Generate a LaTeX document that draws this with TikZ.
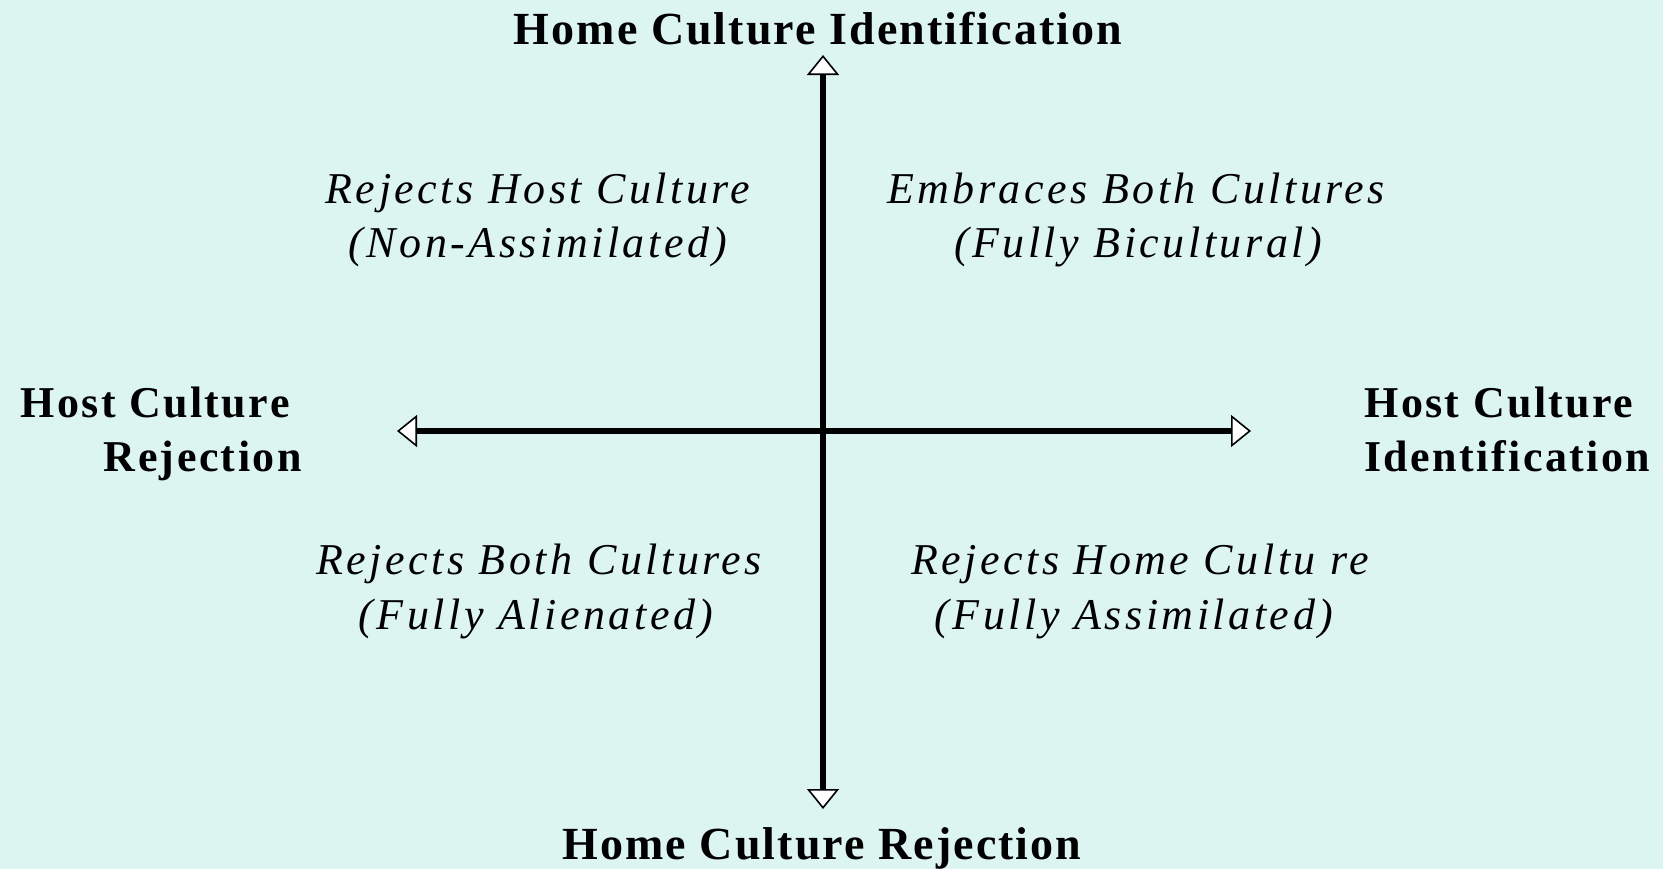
\documentclass[tikz,border=0pt]{standalone}
\usepackage{fontspec}
\setmainfont{Liberation Serif}
\newfontfamily\axisfont[LetterSpace=4.5]{Liberation Serif}
\newfontfamily\sidefont[LetterSpace=5.5]{Liberation Serif}
\newfontfamily\quadfont[LetterSpace=8]{Liberation Serif}
\usetikzlibrary{arrows.meta}
\definecolor{paper}{RGB}{221,245,241}
\tikzset{
  axislbl/.style={inner sep=0pt, font=\axisfont\bfseries\fontsize{23}{27}\selectfont},
  sidelbl/.style={inner sep=0pt, font=\sidefont\bfseries\fontsize{22}{27}\selectfont},
  quadlbl/.style={inner sep=0pt, font=\quadfont\itshape\fontsize{22}{27}\selectfont},
  axisline/.style={line width=2.6pt,
    {Triangle[open, fill=white, line width=0.8pt, length=10pt, width=16pt]}-{Triangle[open, fill=white, line width=0.8pt, length=10pt, width=16pt]}},
}
\begin{document}
\begin{tikzpicture}[x=0.5pt,y=-0.5pt]
  % canvas
  \fill[paper] (0,0) rectangle (1663,869);
  \useasboundingbox (0,0) rectangle (1663,869);

  % axis end points
  \coordinate (top) at (823,55);
  \coordinate (bottom) at (823,809);
  \coordinate (left) at (397,431);
  \coordinate (right) at (1251,431);

  \draw[axisline] (top) -- (bottom);
  \draw[axisline] (left) -- (right);

  % axis labels
  \node[axislbl, anchor=base] (homeid) at (818,44) {Home Culture Identification};
  \node[axislbl, anchor=base] (homerej) at (822,859) {Home Culture Rejection};
  \node[sidelbl, anchor=base east] (hostrej1) at (290,417) {Host Culture};
  \node[sidelbl, anchor=base east] (hostrej2) at (302,471) {Rejection};
  \node[sidelbl, anchor=base west] (hostid1) at (1364,417) {Host Culture};
  \node[sidelbl, anchor=base west] (hostid2) at (1364,471) {Identification};

  % quadrant labels
  \node[quadlbl, anchor=base] (tl1) at (538,203) {Rejects Host Culture};
  \node[quadlbl, anchor=base] (tl2) at (538,257) {(Non-Assimilated)};
  \node[quadlbl, anchor=base] (tr1) at (1136,203) {Embraces Both Cultures};
  \node[quadlbl, anchor=base] (tr2) at (1138,257) {(Fully Bicultural)};
  \node[quadlbl, anchor=base] (bl1) at (539,574) {Rejects Both Cultures};
  \node[quadlbl, anchor=base] (bl2) at (536,629) {(Fully Alienated)};
  \node[quadlbl, anchor=base] (br1) at (1140,574) {Rejects Home Cultu re};
  \node[quadlbl, anchor=base] (br2) at (1134,629) {(Fully Assimilated)};
\end{tikzpicture}
\end{document}
